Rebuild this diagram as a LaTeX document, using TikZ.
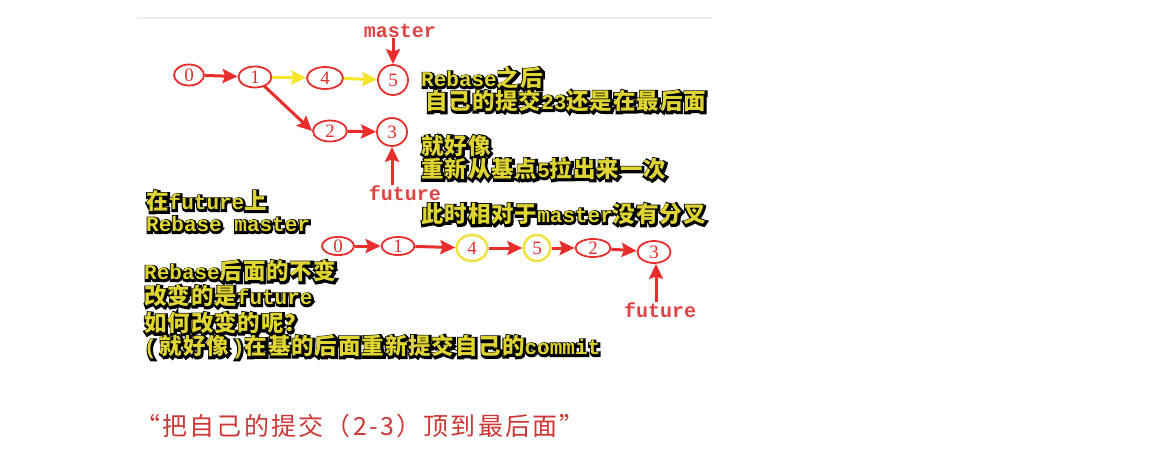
\documentclass[tikz,border=0pt]{standalone}
\usepackage{fontspec}
\usetikzlibrary{arrows.meta,shapes.geometric}
\setmainfont{Liberation Serif}
\newfontfamily\cjkF{Noto Sans CJK SC}[LetterSpace=4]
\newfontfamily\cjkO{Noto Sans CJK SC}[LetterSpace=4,BoldFeatures={FakeBold=17}]
\newfontfamily\monoF{Liberation Mono}
\newfontfamily\monoO{Liberation Mono}[BoldFeatures={FakeBold=17}]
\newfontfamily\cjkR{Noto Sans CJK SC}[LetterSpace=9]
\definecolor{ty}{RGB}{222,212,50}
\definecolor{nred}{RGB}{232,45,45}
\definecolor{lred}{RGB}{222,68,68}
\definecolor{cred}{RGB}{205,55,55}
\definecolor{ayel}{RGB}{245,228,40}
\definecolor{cyel}{RGB}{240,225,60}
\newcommand\zC{\cjkF\bfseries\fontsize{22.5}{24}\selectfont}
\newcommand\zM{\monoF\bfseries\fontsize{21}{24}\selectfont}
\newcommand\zCO{\cjkO\bfseries\fontsize{22.5}{24}\selectfont}
\newcommand\zMO{\monoO\bfseries\fontsize{21}{24}\selectfont}
\newcommand\yt[1]{\rlap{\hspace*{0.7pt}\raisebox{-0.7pt}[0pt][0pt]{\color{black}\let\zC\zCO\let\zM\zMO #1}}{\color{ty}#1}}
\tikzset{
  txt/.style={anchor=west,inner sep=0pt},
  commit/.style={ellipse,draw=nred,line width=1.8pt,inner sep=0pt,
    text=nred,font=\fontsize{19}{19}\selectfont},
  ycommit/.style={commit,draw=cyel,line width=2.4pt},
  lab/.style={text=lred,inner sep=0pt,font=\monoF\bfseries\fontsize{20}{20}\selectfont},
  arr/.style={draw=nred,line width=3pt,-{Stealth[length=15pt,width=14pt,inset=2.5pt]}},
  yarr/.style={arr,draw=ayel},
}
\begin{document}
\begin{tikzpicture}[x=1pt,y=-1pt]
\useasboundingbox (0,0) rectangle (1169,463);
\fill[white] (0,0) rectangle (1169,463);
\draw[gray!15,line width=1.2pt] (137,18) -- (712,18);
% top graph
\node[commit,minimum width=30pt,minimum height=21pt] (n0) at (189,75) {0};
\node[commit,minimum width=33pt,minimum height=21pt] (n1) at (255,77) {1};
\node[commit,minimum width=36pt,minimum height=22pt] (n4) at (325,78) {4};
\node[commit,minimum width=30pt,minimum height=30pt] (n5) at (393,80) {5};
\node[commit,minimum width=34pt,minimum height=21pt] (n2) at (330,131) {2};
\node[commit,minimum width=30pt,minimum height=28pt] (n3) at (392,132) {3};
\node[lab] (master) at (400,31) {master};
\node[lab] (fut1) at (405,193) {future};
\draw[arr] (n0) -- (n1);
\draw[yarr] (n1) -- (n4);
\draw[yarr] (n4) -- (n5);
\coordinate (c12) at ([shift={(-3,1)}]n1.south east);
\draw[arr] (c12) -- (n2.west);
\draw[arr] (n2) -- (n3);
\draw[arr] (master.south -| n5) -- (n5.north);
\draw[arr] (fut1.north -| n3) -- (n3.south);
% bottom graph
\node[commit,minimum width=32pt,minimum height=18pt] (b0) at (338,246) {0};
\node[commit,minimum width=33pt,minimum height=18pt] (b1) at (398,246) {1};
\node[ycommit,minimum width=31pt,minimum height=26pt] (b4) at (472,248) {4};
\node[ycommit,minimum width=27pt,minimum height=26pt] (b5) at (537,248) {5};
\node[commit,minimum width=35pt,minimum height=18pt] (b2) at (593,248) {2};
\node[commit,minimum width=33pt,minimum height=22pt] (b3) at (654,252) {3};
\node[lab] (fut2) at (660,310) {future};
\draw[arr] (b0) -- (b1);
\draw[arr] (b1) -- (b4);
\draw[arr] (b4) -- (b5);
\draw[arr] (b5) -- (b2);
\draw[arr] (b2) -- (b3);
\draw[arr] ([xshift=2pt]fut2.north -| b3) -- ([xshift=2pt]b3.south);
% annotations
\node[txt] (t1) at (421,78) {\yt{\zM Rebase\zC 之后}};
\node[txt] (t2) at (425,101) {\yt{\zC 自己的提交\zM 23\zC 还是在最后面}};
\node[txt] (t3) at (421,146) {\yt{\zC 就好像}};
\node[txt] (t4) at (421,169) {\yt{\zC 重新从基点\zM 5\zC 拉出来一次}};
\node[txt] (t5) at (421,214) {\yt{\zC 此时相对于\zM master\zC 没有分叉}};
\node[txt] (t6) at (146,201) {\yt{\zC 在\zM future\zC 上}};
\node[txt] (t7) at (146,224) {\yt{\zM Rebase master}};
\node[txt] (t8) at (144,271) {\yt{\zM Rebase\zC 后面的不变}};
\node[txt] (t9) at (144,296) {\yt{\zC 改变的是\zM future}};
\node[txt] (t10) at (144,323) {\yt{\zC 如何改变的呢？}};
\node[txt] (t11) at (144,347) {\yt{\zM(\kern3pt\zC 就好像\zM\kern3pt)\zC 在基的后面重新提交自己的\zM commit}};
\node[txt,text=cred,font=\cjkR\fontsize{25}{27}\selectfont] (cap) at (135,426) {“把自己的提交（2-3）顶到最后面”};
\end{tikzpicture}
\end{document}
